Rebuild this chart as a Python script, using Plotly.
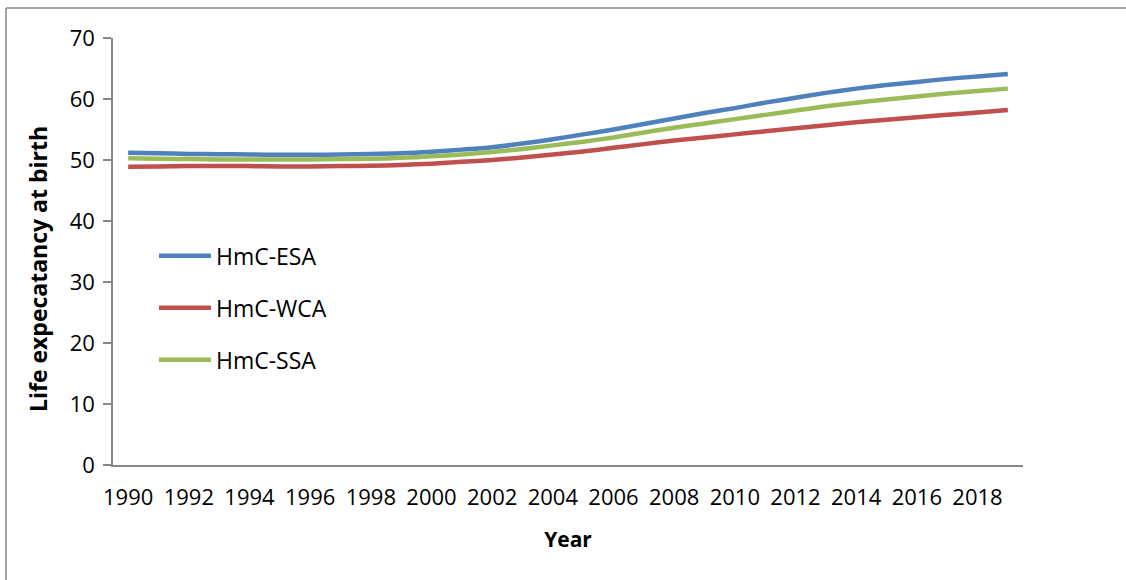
import plotly.graph_objects as go

years = list(range(1990, 2020))
esa = [51.2, 51.1, 51.0, 50.95, 50.9, 50.85, 50.85, 50.9, 51.0, 51.1,
       51.35, 51.7, 52.1, 52.7, 53.4, 54.2, 55.0, 55.9, 56.8, 57.7,
       58.5, 59.4, 60.2, 61.0, 61.7, 62.3, 62.8, 63.3, 63.7, 64.1]
wca = [48.9, 48.95, 49.0, 49.0, 49.0, 48.95, 48.95, 49.0, 49.05, 49.2,
       49.4, 49.7, 50.0, 50.4, 50.9, 51.4, 52.0, 52.6, 53.2, 53.7,
       54.2, 54.7, 55.2, 55.7, 56.2, 56.6, 57.0, 57.4, 57.8, 58.2]
ssa = [50.3, 50.2, 50.15, 50.1, 50.1, 50.1, 50.1, 50.15, 50.2, 50.35,
       50.6, 50.9, 51.3, 51.8, 52.4, 53.0, 53.7, 54.5, 55.3, 56.0,
       56.7, 57.4, 58.1, 58.8, 59.4, 59.9, 60.4, 60.9, 61.3, 61.7]

series = [("HmC-ESA", esa, "#4F81BD"),
          ("HmC-WCA", wca, "#C0504D"),
          ("HmC-SSA", ssa, "#9BBB59")]

x_ticks = list(range(1990, 2019, 2))
y_ticks = list(range(0, 71, 10))

fig = go.Figure()
for i, (name, vals, col) in enumerate(series):
    fig.add_trace(go.Scatter(
        x=years, y=vals, name=name, mode="lines",
        line=dict(color=col, width=4.5, shape="spline", smoothing=0.8),
        legendgroup=f"g{i}",
    ))

axis_col = "#868686"
font_family = "Open Sans, Noto Sans, sans-serif"

fig.update_layout(
    width=1126, height=580,
    margin=dict(l=113, r=103, t=38, b=115),
    paper_bgcolor="white", plot_bgcolor="white",
    font=dict(family=font_family, color="black", size=22),
    showlegend=True,
    legend=dict(
        x=0.045, y=0.54, xanchor="left", yanchor="top",
        font=dict(size=23, color="black"),
        bgcolor="rgba(0,0,0,0)",
        tracegroupgap=19,
        itemwidth=52,
    ),
    xaxis=dict(
        range=[1989.5, 2019.5],
        tickmode="array", tickvals=x_ticks,
        ticktext=[str(v) for v in x_ticks],
        tickfont=dict(size=22),
        showgrid=False, zeroline=False,
        showline=True, linecolor=axis_col, linewidth=1.5,
        ticks="", ticklabelstandoff=12,
        title=dict(text="<b>Year</b>", font=dict(size=21), standoff=22),
    ),
    yaxis=dict(
        range=[0, 70],
        tickmode="array", tickvals=y_ticks,
        tickfont=dict(size=22),
        showgrid=False, zeroline=False,
        showline=True, linecolor=axis_col, linewidth=1.5,
        ticks="outside", ticklen=8, tickcolor=axis_col, tickwidth=1.5,
        ticklabelstandoff=4,
    ),
    annotations=[dict(
        text="<b>Life expecatancy at birth</b>", textangle=-90,
        xref="paper", yref="paper",
        x=(38 - 113) / 910, y=(465 - 269) / 427,
        xanchor="center", yanchor="middle", showarrow=False,
        font=dict(size=23, color="black"),
    )],
    shapes=[
        dict(type="line", xref="paper", yref="paper",
             x0=(6 - 113) / 910, x1=(6 - 113) / 910,
             y0=-0.6, y1=(465 - 8) / 427,
             line=dict(color=axis_col, width=1.5), layer="below"),
        dict(type="line", xref="paper", yref="paper",
             x0=(6 - 113) / 910, x1=1.5,
             y0=(465 - 8) / 427, y1=(465 - 8) / 427,
             line=dict(color=axis_col, width=1.5), layer="below"),
    ],
)

fig.write_html(
    "out.html",
    post_script="document.documentElement.style.overflow='hidden';document.body.style.overflow='hidden';document.body.style.margin='0';",
)
